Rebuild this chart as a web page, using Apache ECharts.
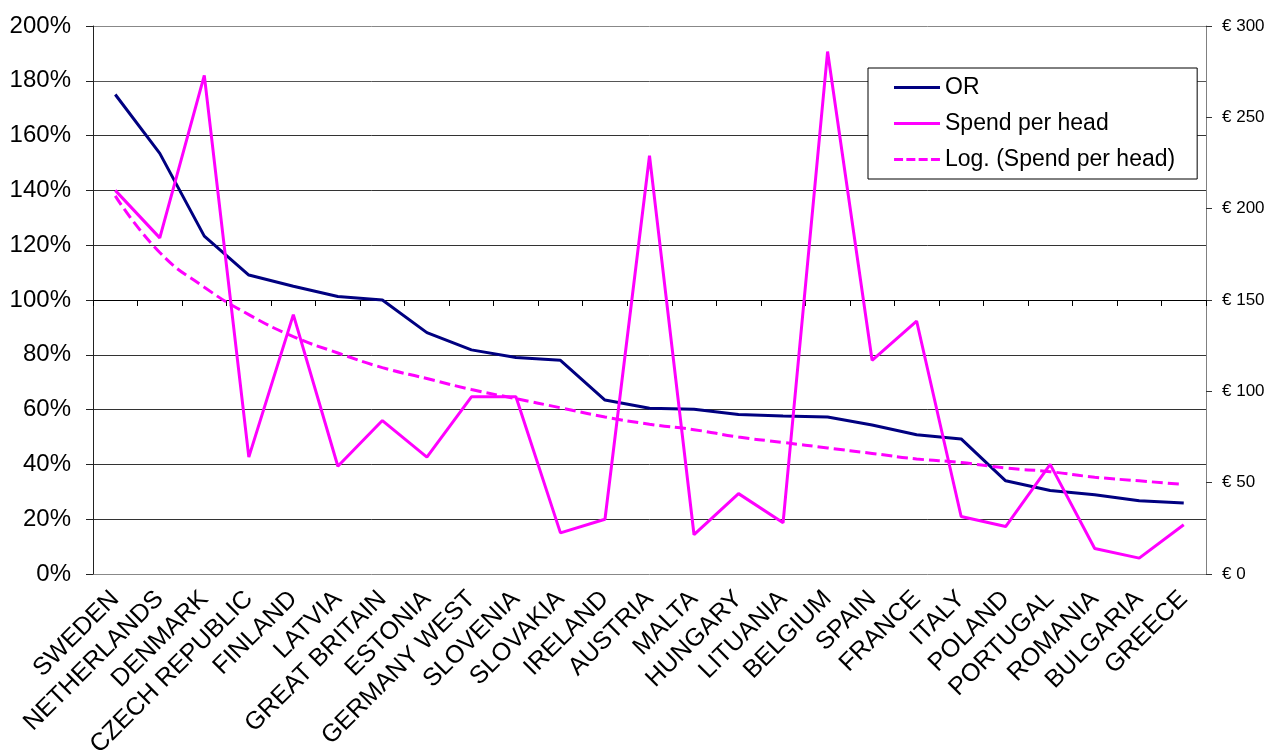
<!DOCTYPE html>
<html>
<head>
<meta charset="utf-8">
<script src="https://cdn.jsdelivr.net/npm/echarts@6/dist/echarts.min.js"></script>
<style>
html,body{margin:0;padding:0;background:#fff;}
#chart{width:1270px;height:751px;}
</style>
</head>
<body>
<div id="chart"></div>
<script>
const categories = ['SWEDEN','NETHERLANDS','DENMARK','CZECH REPUBLIC','FINLAND','LATVIA','GREAT BRITAIN','ESTONIA','GERMANY WEST','SLOVENIA','SLOVAKIA','IRELAND','AUSTRIA','MALTA','HUNGARY','LITUANIA','BELGIUM','SPAIN','FRANCE','ITALY','POLAND','PORTUGAL','ROMANIA','BULGARIA','GREECE'];
const orValues = [175,153.5,123.3,109.1,105,101.3,100,88.1,81.8,79,78,63.5,60.5,60.1,58.2,57.7,57.3,54.4,50.8,49.3,34,30.5,28.9,26.7,25.9];
const spendValues = [210,184,273,64,142,59,84,64,97,97,22.5,30,229,21.5,44,28,286,117,138.5,31.5,26,60,14,8.7,27];
const trendValues = [207,176,157,142,130,121,113,107,101,96,91,86,82,79,75,72,69,66,63,61,58,56,53,51,49];
const leftTicks = {min: 0, max: 200, interval: 20};
const rightTicks = {min: 0, max: 300, interval: 50};
const seriesNames = ['OR', 'Spend per head', 'Log. (Spend per head)'];

const FONT = "'Liberation Sans', Arial, sans-serif";
const chart = echarts.init(document.getElementById('chart'), null, {renderer: 'canvas'});

chart.setOption({
  animation: false,
  backgroundColor: '#fff',
  textStyle: {fontFamily: FONT},
  grid: {left: 93, right: 64, top: 26, bottom: 177, containLabel: false, outerBoundsMode: 'none'},
  legend: {
    orient: 'vertical',
    left: 868, top: 68,
    padding: [8, 22, 8, 26],
    itemWidth: 46, itemHeight: 3, itemGap: 13,
    borderColor: '#000', borderWidth: 1,
    backgroundColor: '#fff',
    textStyle: {fontSize: 23, color: '#000', fontFamily: FONT},
    data: [
      {name: seriesNames[0], icon: 'rect'},
      {name: seriesNames[1], icon: 'rect'},
      {name: seriesNames[2], icon: 'path://M0,0h9v3h-9zM12.3,0h9v3h-9zM24.6,0h9v3h-9zM36.9,0h9v3h-9z'}
    ]
  },
  xAxis: [
    {
      type: 'category', data: categories, boundaryGap: true, position: 'bottom',
      axisLine: {show: true, onZero: true, onZeroAxisIndex: 2, lineStyle: {color: '#000', width: 1}},
      axisTick: {show: true, interval: 0, length: 6, lineStyle: {color: '#000', width: 1}},
      axisLabel: {interval: 0, rotate: 45, margin: 21, fontSize: 25, color: '#000', fontFamily: FONT},
      splitLine: {show: false}
    }
  ],
  yAxis: [
    {
      type: 'value', position: 'left',
      min: leftTicks.min, max: leftTicks.max, interval: leftTicks.interval,
      axisLine: {show: true, onZero: false, lineStyle: {color: '#222', width: 1}},
      axisTick: {show: true, length: 7, lineStyle: {color: '#222'}},
      axisLabel: {formatter: v => v + '%', fontSize: 24, color: '#000', margin: 22, fontFamily: FONT},
      splitLine: {show: true, lineStyle: {color: ['#888','#333','#333','#333','#333','#333','#333','#333','#333','#555','#888'], width: 1}}
    },
    {
      type: 'value', position: 'right',
      min: rightTicks.min, max: rightTicks.max, interval: rightTicks.interval,
      axisLine: {show: true, onZero: false, lineStyle: {color: '#808080', width: 1}},
      axisTick: {show: true, length: 6, lineStyle: {color: '#333'}},
      axisLabel: {formatter: v => '€ ' + v, fontSize: 17, color: '#000', margin: 16, fontFamily: FONT},
      splitLine: {show: false}
    },
    {
      type: 'value', position: 'left', min: -100, max: 100, interval: 100, show: true,
      axisLine: {show: false, onZero: false}, axisTick: {show: false}, axisLabel: {show: false}, splitLine: {show: false}
    }
  ],
  series: [
    {
      name: seriesNames[0], type: 'line', xAxisIndex: 0, yAxisIndex: 0,
      data: orValues, showSymbol: false, symbol: 'none', smooth: false,
      lineStyle: {color: '#000080', width: 3}, itemStyle: {color: '#000080'}, z: 3
    },
    {
      name: seriesNames[1], type: 'line', xAxisIndex: 0, yAxisIndex: 1,
      data: spendValues, showSymbol: false, symbol: 'none', smooth: false,
      lineStyle: {color: '#FF00FF', width: 3}, itemStyle: {color: '#FF00FF'}, z: 4
    },
    {
      name: seriesNames[2], type: 'line', xAxisIndex: 0, yAxisIndex: 1,
      data: trendValues, showSymbol: false, symbol: 'none', smooth: true,
      lineStyle: {color: '#FF00FF', width: 3, type: [11, 5]}, itemStyle: {color: '#FF00FF'}, z: 5
    },
    {
      name: 'axisHelper', type: 'line', xAxisIndex: 0, yAxisIndex: 2,
      data: [], silent: true, showSymbol: false, symbol: 'none'
    }
  ]
});
</script>
</body>
</html>
